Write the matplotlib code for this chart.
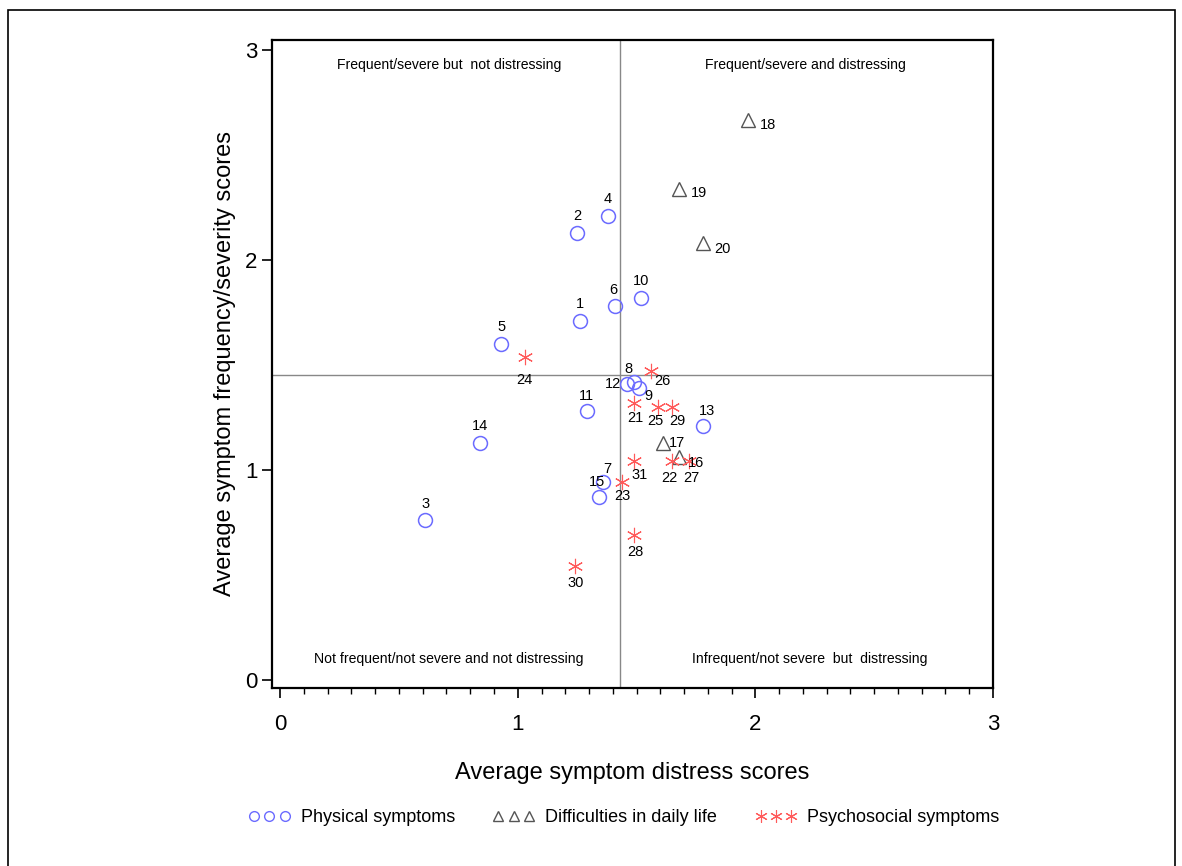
import matplotlib.pyplot as plt
from matplotlib.lines import Line2D
from matplotlib.patches import Rectangle

plt.rcParams['font.family'] = ['Liberation Sans', 'DejaVu Sans']

# Physical symptoms (1-15)
phys_id = [1, 2, 3, 4, 5, 6, 7, 8, 9, 10, 11, 12, 13, 14, 15]
phys_x = [1.26, 1.25, 0.61, 1.38, 0.93, 1.41, 1.36, 1.49, 1.51, 1.52, 1.29, 1.46, 1.78, 0.84, 1.34]
phys_y = [1.71, 2.13, 0.76, 2.21, 1.60, 1.78, 0.94, 1.42, 1.39, 1.82, 1.28, 1.41, 1.21, 1.13, 0.87]

# Difficulties in daily life (16-20)
diff_id = [16, 17, 18, 19, 20]
diff_x = [1.68, 1.61, 1.97, 1.68, 1.78]
diff_y = [1.06, 1.13, 2.67, 2.34, 2.08]

# Psychosocial symptoms (21-31)
psy_id = [21, 22, 23, 24, 25, 26, 27, 28, 29, 30, 31]
psy_x = [1.49, 1.65, 1.44, 1.03, 1.59, 1.56, 1.72, 1.49, 1.65, 1.24, 1.49]
psy_y = [1.32, 1.04, 0.94, 1.54, 1.30, 1.47, 1.04, 0.69, 1.30, 0.54, 1.04]

x_ref = 1.43
y_ref = 1.45

# label offsets (points)
phys_off = [(0, 12), (0, 12), (0, 12), (0, 12), (0, 12), (-1, 12), (3, 10), (-4, 9),
            (7, -6), (0, 12), (0, 11), (-10, 0), (3, 11), (0, 12), (-1, 11)]
diff_off = [(12, -4), (10, 0), (14, -4), (14, -3), (14, -4)]
psy_off = [(1, -11), (-2, -12), (0, -10), (0, -17), (-2, -10), (8, -7), (2, -12), (1, -12),
           (4, -10), (1, -12), (4, -10)]

fig = plt.figure(figsize=(11.82, 8.66), dpi=100)
ax = fig.add_axes([0.230, 0.2055, 0.610, 0.7485])

ax.axvline(x_ref, color='#888888', lw=1, zorder=1)
ax.axhline(y_ref, color='#888888', lw=1, zorder=1)

ax.plot(phys_x, phys_y, 'o', ms=10, mfc='none', mec='#6b6bff', mew=1.1, zorder=3)
ax.plot(diff_x, diff_y, '^', ms=10, mfc='none', mec='#555555', mew=1.0, zorder=3)
ax.plot(psy_x, psy_y, marker=(6, 2, 0), ls='none', ms=11, mec='#ff5a5a', mew=0.8, zorder=3)

for ids, xs, ys, offs in [(phys_id, phys_x, phys_y, phys_off),
                          (diff_id, diff_x, diff_y, diff_off),
                          (psy_id, psy_x, psy_y, psy_off)]:
    for i, x, y, o in zip(ids, xs, ys, offs):
        ax.annotate(str(i), (x, y), xytext=o, textcoords='offset points',
                    ha='center', va='center', fontsize=10.5, zorder=4)

qfs = 10.1
ax.text(0.71, 2.93, 'Frequent/severe but  not distressing', ha='center', va='center', fontsize=qfs)
ax.text(2.21, 2.93, 'Frequent/severe and distressing', ha='center', va='center', fontsize=qfs)
ax.text(0.71, 0.10, 'Not frequent/not severe and not distressing', ha='center', va='center', fontsize=qfs)
ax.text(2.23, 0.10, 'Infrequent/not severe  but  distressing', ha='center', va='center', fontsize=qfs)

ax.set_xlim(-0.035, 3.0)
ax.set_ylim(-0.04, 3.05)
ax.set_xticks([0, 1, 2, 3])
ax.set_xticks([i / 10 for i in range(31)], minor=True)
ax.set_yticks([0, 1, 2, 3])
ax.tick_params(axis='both', labelsize=16, width=1.2, length=7, direction='out')
ax.tick_params(axis='x', which='minor', length=4, width=1)
ax.tick_params(axis='x', pad=12)
for s in ax.spines.values():
    s.set_linewidth(1.6)

ax.set_xlabel('Average symptom distress scores', fontsize=17, labelpad=19)
ax.set_ylabel('Average symptom frequency/severity scores', fontsize=17, labelpad=6)

handles = [
    Line2D([], [], ls='none', marker='o', ms=7, mfc='none', mec='#6b6bff'),
    Line2D([], [], ls='none', marker='^', ms=7, mfc='none', mec='#555555'),
    Line2D([], [], ls='none', marker=(6, 2, 0), ms=9, mec='#ff5a5a', mew=0.8),
]
fig.legend(handles, ['Physical symptoms', 'Difficulties in daily life', 'Psychosocial symptoms'],
           loc='center', bbox_to_anchor=(0.528, 0.056), ncol=3, frameon=False, numpoints=3,
           fontsize=13, columnspacing=2.1, handletextpad=0.6, handlelength=2.3)

fig.patches.append(Rectangle((0.007, -0.01), 0.987, 0.998, transform=fig.transFigure,
                             fill=False, edgecolor='black', lw=1.2))

fig.savefig('out.png', dpi=100)
